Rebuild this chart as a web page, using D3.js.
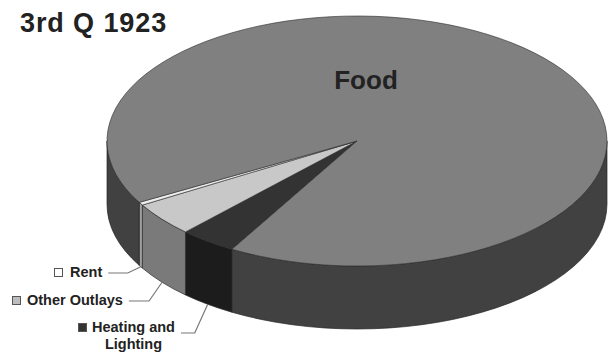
<!DOCTYPE html>
<html>
<head>
<meta charset="utf-8">
<script src="https://cdn.jsdelivr.net/npm/d3@7"></script>
<style>
  body { margin: 0; background: #fff; }
  text { font-family: "Liberation Sans", Arial, sans-serif; font-weight: bold; fill: #222; }
</style>
</head>
<body>
<div id="chart"></div>
<script>
(() => {
    // share of outlays, 3rd quarter 1923 (percent)
    let categories = ["Heating and Lighting", "Other Outlays", "Rent", "Food"];
    let values = [3.7, 4.4, 0.4, 91.5];
    let title = "3rd Q 1923";

    let topColors = ["#333333", "#c8c8c8", "#ececec", "#808080"];
    let sideColors = ["#1c1c1c", "#7a7a7a", "#a0a0a0", "#414141"];
    let legendColors = ["#333333", "#bdbdbd", "#ffffff"];

    let w = 610;
    let h = 353;
    let cx = 357, cy = 141, rx = 250, ry = 125, depth = 63;

    let svg = d3.select("#chart")
        .append("svg")
        .attr("width", w)
        .attr("height", h);

    let rad = Math.PI / 180;
    let pie = d3.pie()
        .sort(null)
        .startAngle(210 * rad)
        .endAngle(210 * rad + 2 * Math.PI);

    let slices = pie(values).map((d, i) => ({ ...d, i: i }));

    // d3 angle (0 = up, clockwise) to a point on the top / bottom ellipse
    let px = (a) => cx + rx * Math.sin(a);
    let py = (a, dy) => cy - ry * Math.cos(a) + (dy || 0);

    // visible side parts: only the front half (90..270 deg)
    let sides = [];
    slices.forEach((d) => {
        [-1, 0, 1].forEach((k) => {
            let lo = Math.max(d.startAngle, (90 + 360 * k) * rad);
            let hi = Math.min(d.endAngle, (270 + 360 * k) * rad);
            if (hi > lo) sides.push({ a0: lo, a1: hi, i: d.i });
        });
    });

    let sidePath = (s) =>
        "M" + px(s.a0) + "," + py(s.a0) +
        "A" + rx + "," + ry + " 0 0 1 " + px(s.a1) + "," + py(s.a1) +
        "L" + px(s.a1) + "," + py(s.a1, depth) +
        "A" + rx + "," + ry + " 0 0 0 " + px(s.a0) + "," + py(s.a0, depth) + "Z";

    let topPath = (d) => {
        let large = (d.endAngle - d.startAngle) > Math.PI ? 1 : 0;
        return "M" + cx + "," + cy +
            "L" + px(d.startAngle) + "," + py(d.startAngle) +
            "A" + rx + "," + ry + " 0 " + large + " 1 " + px(d.endAngle) + "," + py(d.endAngle) + "Z";
    };

    svg.selectAll(".side")
        .data(sides)
        .enter()
        .append("path")
        .attr("class", "side")
        .attr("d", sidePath)
        .attr("fill", (d) => sideColors[d.i])
        .attr("stroke", "#262626")
        .attr("stroke-width", 0.7);

    svg.selectAll(".top")
        .data(slices)
        .enter()
        .append("path")
        .attr("class", "top")
        .attr("d", topPath)
        .attr("fill", (d) => topColors[d.i])
        .attr("stroke", "#2a2a2a")
        .attr("stroke-width", 0.6);

    // title and the big label
    svg.append("text")
        .attr("x", 20)
        .attr("y", 32)
        .style("font-size", "27px")
        .style("letter-spacing", "0.9px")
        .text(title);

    svg.append("text")
        .attr("x", 366)
        .attr("y", 89)
        .attr("text-anchor", "middle")
        .style("font-size", "26px")
        .text(categories[3]);

    // legend-like labels with leader lines to the bottom rim
    let labels = [
        { i: 2, lines: ["Rent"], x: 70, y: 277, box: 54 },
        { i: 1, lines: ["Other Outlays"], x: 27, y: 305, box: 12 },
        { i: 0, lines: ["Heating and", "Lighting"], x: 92, y: 332, box: 78 }
    ];

    let lab = svg.selectAll(".lab")
        .data(labels)
        .enter()
        .append("g")
        .attr("class", "lab");

    lab.append("rect")
        .attr("x", (d) => d.box + 0.5)
        .attr("y", (d) => d.y - 8.5)
        .attr("width", 8)
        .attr("height", 8)
        .attr("fill", (d) => legendColors[d.i])
        .attr("stroke", "#555")
        .attr("stroke-width", 1);

    lab.each(function (d) {
        let g = d3.select(this);
        let t = g.append("text")
            .attr("x", d.x)
            .attr("y", d.y)
            .style("font-size", "14.5px")
            .text(d.lines[0]);
        let tw = t.node().getComputedTextLength();
        if (d.lines.length > 1) {
            g.append("text")
                .attr("x", d.x + tw / 2)
                .attr("y", d.y + 17)
                .attr("text-anchor", "middle")
                .style("font-size", "14.5px")
                .text(d.lines[1]);
        }
        let s = slices[d.i];
        let mid = (s.startAngle + s.endAngle) / 2;
        let ex = px(mid), ey = py(mid, depth);
        let ly = d.y - 4 + (d.lines.length > 1 ? 5 : 0);
        let x0 = d.x + tw + 6;
        let elbow = Math.max(x0 + 10, ex - 13);
        g.append("path")
            .attr("d", "M" + x0 + "," + ly + "L" + elbow + "," + ly + "L" + ex + "," + ey)
            .attr("fill", "none")
            .attr("stroke", "#777")
            .attr("stroke-width", 1.2);
    });
})();
</script>
</body>
</html>
